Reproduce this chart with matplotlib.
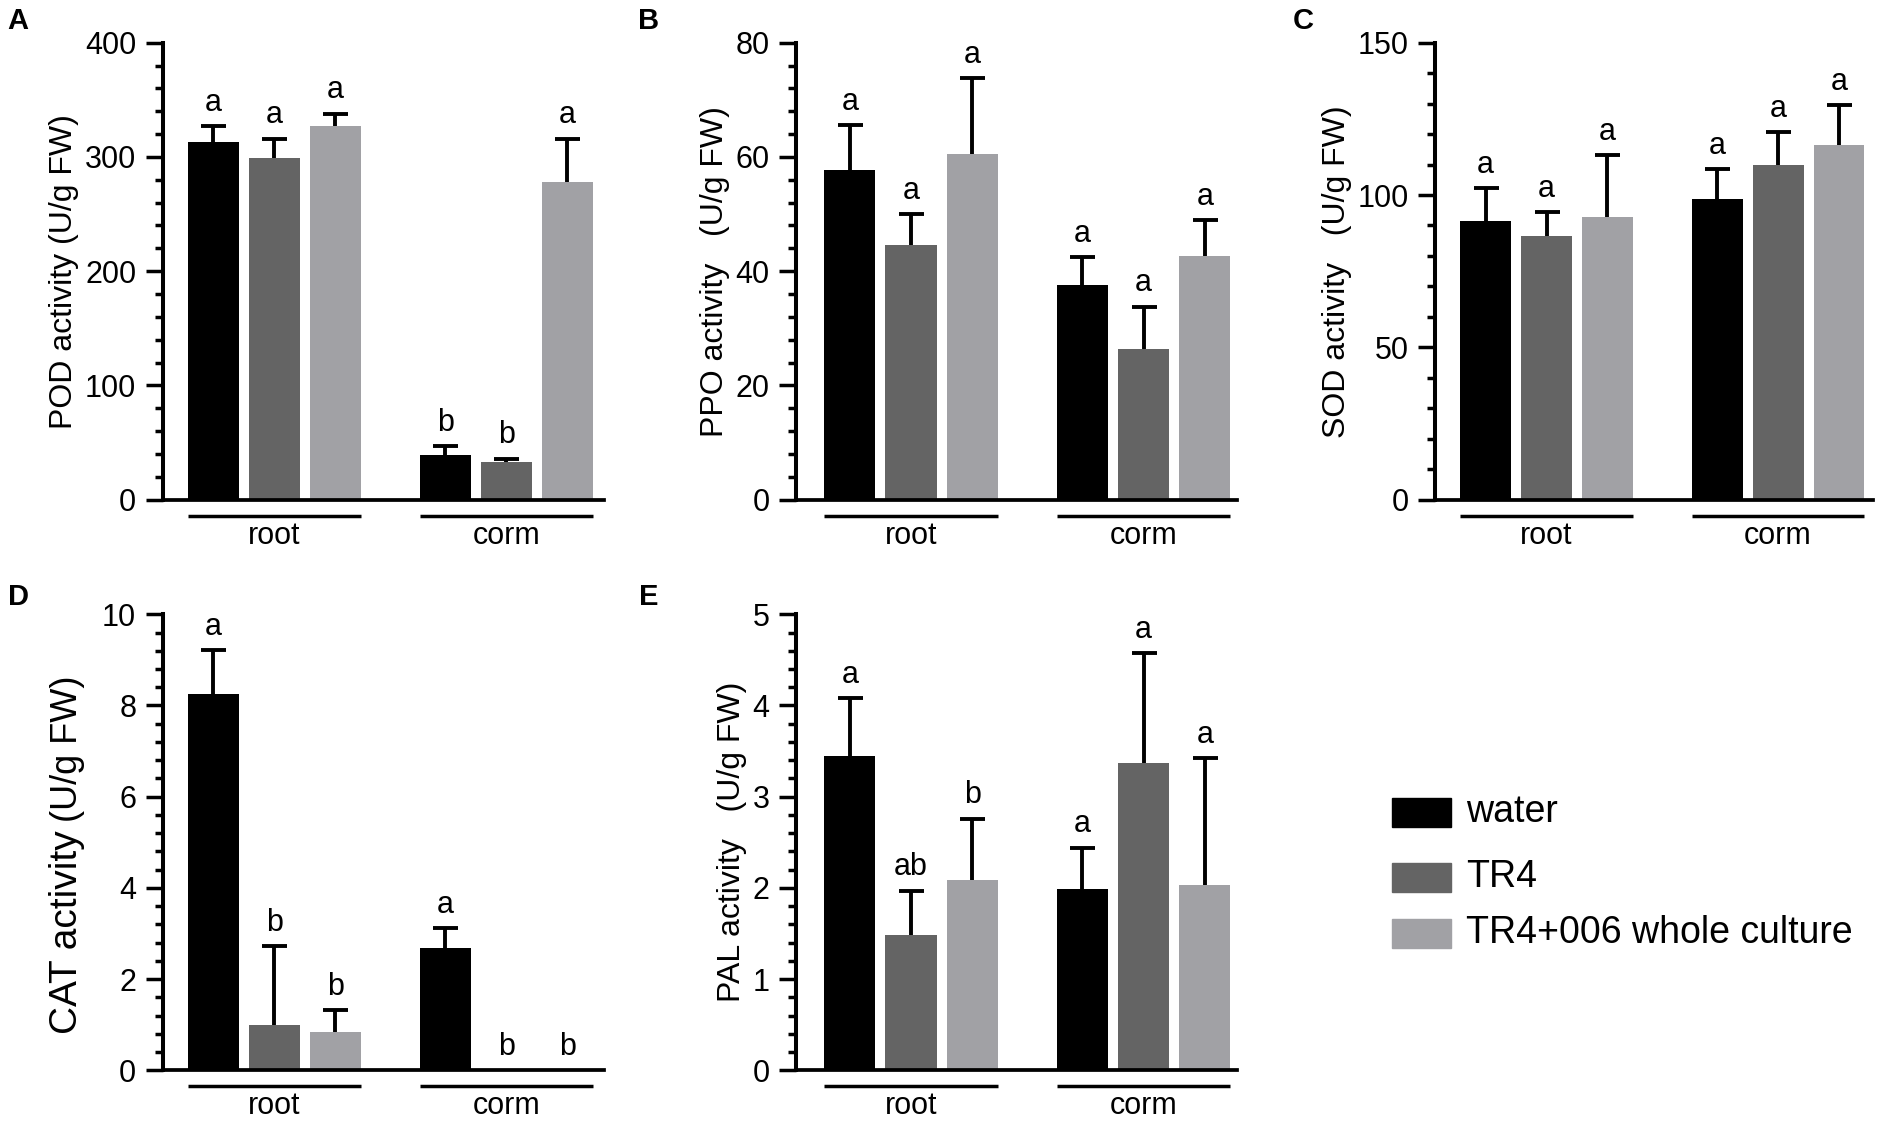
import matplotlib.pyplot as plt
from matplotlib.ticker import MultipleLocator
import numpy as np

plt.rcParams['font.family'] = ['Liberation Sans', 'DejaVu Sans']

# ------------------------
# dados
groups = ['root', 'corm']
treatments = ['water', 'TR4', 'TR4+006 whole culture']
colors = ['#000000', '#646464', '#a1a1a5']

pod_mean = [[313, 299, 327], [39, 33, 278]]
pod_top = [[327, 316, 338], [47, 36, 316]]
pod_let = [['a', 'a', 'a'], ['b', 'b', 'a']]

ppo_mean = [[57.8, 44.5, 60.5], [37.6, 26.4, 42.6]]
ppo_top = [[65.6, 50.0, 73.8], [42.4, 33.8, 48.9]]
ppo_let = [['a', 'a', 'a'], ['a', 'a', 'a']]

sod_mean = [[91.5, 86.5, 92.7], [98.6, 109.8, 116.3]]
sod_top = [[102.3, 94.4, 113.0], [108.4, 120.7, 129.4]]
sod_let = [['a', 'a', 'a'], ['a', 'a', 'a']]

cat_mean = [[8.25, 1.0, 0.84], [2.68, 0.0, 0.0]]
cat_top = [[9.22, 2.72, 1.31], [3.11, 0.0, 0.0]]
cat_let = [['a', 'b', 'b'], ['a', 'b', 'b']]

pal_mean = [[3.45, 1.48, 2.09], [1.99, 3.37, 2.03]]
pal_top = [[4.08, 1.97, 2.76], [2.44, 4.57, 3.42]]
pal_let = [['a', 'ab', 'b'], ['a', 'a', 'a']]

BW = 0.836  # largura das barras


# ------------------------
# um painel de barras
def Plot_Panel(ax, mean, top, lets, ymax, major, minor, xl, ylabel=None):
    tr = ax.get_xaxis_transform()
    for g in range(len(groups)):
        xs = np.arange(3) + g*3.8
        for t in range(3):
            m = mean[g][t]
            ax.bar(xs[t], m, width=BW, color=colors[t], zorder=2)
            if top[g][t] > m:
                ax.plot([xs[t], xs[t]], [m, top[g][t]], color='k', lw=2.8,
                        solid_capstyle='butt', zorder=3)
                ax.plot(xs[t], top[g][t], marker='_', ms=18, mew=2.8,
                        color='k', zorder=3)
            ax.annotate(lets[g][t], (xs[t], top[g][t]), xytext=(0, 6),
                        textcoords='offset points', ha='center', va='bottom',
                        fontsize=22)
        # linha do grupo
        ax.plot([xs[0]-BW/2, xs[2]+BW/2], [-0.035, -0.035], color='k', lw=2.5,
                transform=tr, clip_on=False, solid_capstyle='butt')
        ax.text(xs[1], -0.046, groups[g], transform=tr, ha='center', va='top',
                fontsize=22)
    ax.set_xlim(xl)
    ax.set_ylim(0, ymax)
    ax.yaxis.set_major_locator(MultipleLocator(major))
    ax.yaxis.set_minor_locator(MultipleLocator(minor))
    ax.set_xticks([])
    ax.spines['top'].set_visible(False)
    ax.spines['right'].set_visible(False)
    ax.spines['left'].set_linewidth(2.9)
    ax.spines['bottom'].set_linewidth(2.7)
    ax.tick_params(axis='y', which='major', length=12, width=2.5,
                   labelsize=22, pad=7)
    ax.tick_params(axis='y', which='minor', length=6, width=2.5)
    if ylabel is not None:
        ax.set_ylabel(ylabel, fontsize=23, labelpad=4)


fig = plt.figure(figsize=(19.02, 11.23), dpi=100)
axA = fig.add_axes([0.0855, 0.555, 0.232, 0.407])
axB = fig.add_axes([0.4185, 0.555, 0.232, 0.407])
axC = fig.add_axes([0.7545, 0.555, 0.230, 0.407])
axD = fig.add_axes([0.0855, 0.047, 0.232, 0.406])
axE = fig.add_axes([0.4185, 0.047, 0.232, 0.406])

Plot_Panel(axA, pod_mean, pod_top, pod_let, 400, 100, 20, (-0.83, 6.40),
           'POD activity (U/g FW)')
Plot_Panel(axB, ppo_mean, ppo_top, ppo_let, 80, 20, 4, (-0.88, 6.33),
           'PPO activity   (U/g FW)')
Plot_Panel(axC, sod_mean, sod_top, sod_let, 150, 50, 10, (-0.83, 6.35),
           'SOD activity   (U/g FW)')
Plot_Panel(axD, cat_mean, cat_top, cat_let, 10, 2, 0.4, (-0.83, 6.40))
Plot_Panel(axE, pal_mean, pal_top, pal_let, 5, 1, 0.2, (-0.88, 6.33),
           'PAL activity   (U/g FW)')

# rótulo do CAT com dois tamanhos, mesma linha de base
axD.text(-0.195, 0.08, 'CAT activity', transform=axD.transAxes, rotation=90,
         rotation_mode='anchor', ha='left', va='baseline', fontsize=28)
axD.text(-0.195, 0.545, '(U/g FW)', transform=axD.transAxes, rotation=90,
         rotation_mode='anchor', ha='left', va='baseline', fontsize=26)

# letras dos painéis
for lab, x, y in [('A', 0.0095, 0.981), ('B', 0.341, 0.981), ('C', 0.685, 0.981),
                  ('D', 0.0095, 0.468), ('E', 0.341, 0.468)]:
    fig.text(x, y, lab, fontsize=21, fontweight='bold', ha='center', va='center')

# legenda
leg_y = [0.2765, 0.219, 0.169]
for i in range(3):
    fig.patches.append(plt.Rectangle((0.732, leg_y[i] - 0.0129), 0.031, 0.0258,
                                     transform=fig.transFigure, color=colors[i]))
    fig.text(0.771, leg_y[i], treatments[i], fontsize=27, ha='left', va='center')

fig.savefig('out.png', dpi=100)
